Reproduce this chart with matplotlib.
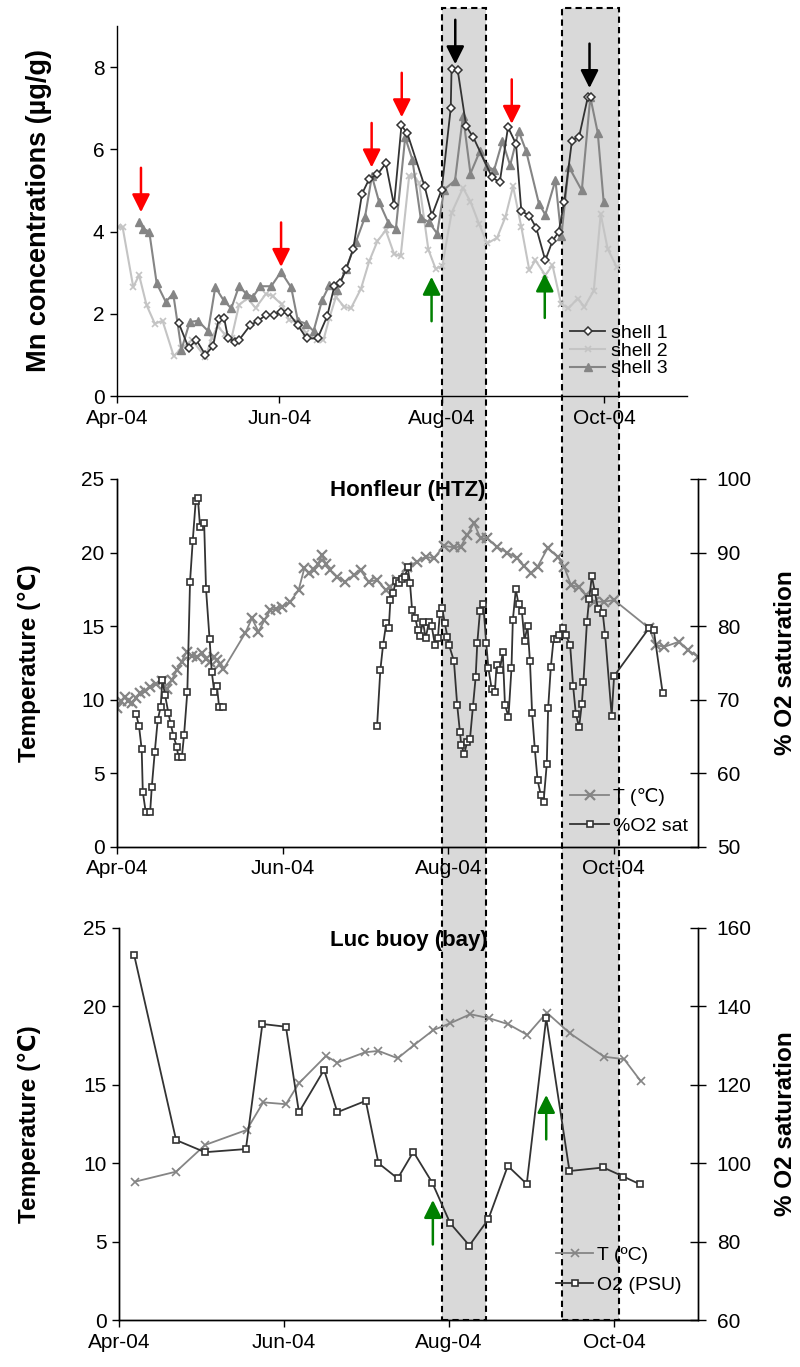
import numpy as np
import pandas as pd
import matplotlib
matplotlib.use('Agg')
import matplotlib.pyplot as plt
import matplotlib.dates as mdates
from matplotlib.patches import Rectangle

plt.rcParams['font.family'] = ['Liberation Sans', 'DejaVu Sans']

# Dias contados desde el 1 de abril de 2004
inicio = pd.Timestamp('2004-04-01')
dias_max = 214

# --- Panel 1: Mn en las conchas ---
shell1_dias = [23.2, 26.9, 29.8, 33.2, 36.0, 38.2, 40.2, 41.7, 44.4, 45.8, 50.0, 52.9, 56.0, 58.8,
               61.6, 64.1, 67.9, 71.2, 75.3, 78.9, 81.6, 83.7, 86.0, 88.7, 92.0, 94.7, 97.8, 100.9,
               104.0, 106.8, 109.0, 115.5, 118.2, 121.9, 125.3, 125.6, 127.9, 131.1, 133.8, 140.8,
               143.7, 146.8, 149.8, 151.8, 154.8, 157.4, 160.8, 163.5, 165.8, 167.9, 170.8, 173.5,
               176.8, 177.8]
shell1_mn = [1.77, 1.17, 1.36, 1.00, 1.21, 1.87, 1.90, 1.41, 1.32, 1.36, 1.72, 1.83, 1.97, 1.97,
             2.05, 2.05, 1.72, 1.40, 1.40, 1.94, 2.67, 2.75, 3.08, 3.58, 4.92, 5.28, 5.39, 5.66,
             4.64, 6.58, 6.39, 5.10, 4.39, 5.02, 7.00, 7.95, 7.93, 6.56, 6.29, 5.32,
             5.20, 6.54, 6.13, 4.50, 4.39, 4.09, 3.30, 3.77, 3.99, 4.72, 6.21, 6.31,
             7.28, 7.28]

shell2_dias = [0.5, 2.1, 6.1, 8.3, 11.1, 14.2, 17.1, 21.3, 24.2, 28.1, 33.2, 35.6, 37.8, 40.4,
               43.0, 45.8, 49.0, 52.0, 56.0, 58.4, 61.8, 64.7, 67.7, 71.1, 75.2, 77.5, 79.7, 82.2,
               85.3, 87.8, 91.6, 94.7, 97.8, 100.9, 104.0, 106.5, 109.7, 111.5, 113.4, 116.9,
               119.6, 122.1, 125.6, 129.9, 132.7, 135.9, 139.0, 142.7, 145.8, 148.7, 151.8, 154.8,
               157.1, 160.8, 163.5, 166.7, 169.5, 172.9, 175.5, 179.0, 181.6, 184.2, 187.6]
shell2_mn = [4.11, 4.11, 2.65, 2.94, 2.21, 1.76, 1.83, 0.97, 1.16, 1.36, 0.95, 1.41, 1.70, 1.50,
             1.41, 2.21, 2.38, 2.14, 2.49, 2.43, 2.23, 1.84, 1.80, 1.53, 1.36, 1.36, 1.89, 2.41,
             2.17, 2.13, 2.61, 3.28, 3.77, 4.03, 3.46, 3.40, 5.36, 5.34, 5.19, 3.56,
             3.10, 3.16, 4.45, 5.06, 4.73, 4.19, 3.71, 3.85, 4.35, 5.10, 4.11, 3.06,
             3.30, 2.94, 3.18, 2.25, 2.13, 2.37, 2.17, 2.56, 4.43, 3.58, 3.14]

shell3_dias = [8.3, 9.8, 12.1, 14.9, 18.3, 21.1, 24.2, 27.3, 30.4, 34.2, 36.9, 40.0, 42.9, 45.8,
               48.5, 51.0, 53.8, 57.9, 61.6, 65.4, 67.9, 71.0, 73.8, 77.0, 79.7, 82.6, 86.0, 89.7,
               93.1, 95.7, 98.4, 101.9, 104.7, 108.2, 110.9, 114.0, 117.1, 120.2, 122.8, 126.9,
               129.9, 132.7, 136.2, 138.8, 141.6, 144.7, 147.6, 150.8, 153.6, 158.4, 160.8, 164.6,
               166.8, 169.6, 174.5, 177.7, 180.5, 182.7]
shell3_mn = [4.23, 4.07, 4.00, 2.74, 2.29, 2.49, 1.13, 1.80, 1.83, 1.58, 2.65, 2.33, 2.13, 2.67,
             2.49, 2.41, 2.67, 2.67, 3.02, 2.64, 1.83, 1.76, 1.58, 2.33, 2.69, 2.57, 3.09, 3.75,
             4.35, 5.35, 4.72, 4.21, 4.07, 6.29, 5.75, 4.34, 4.23, 3.95, 5.02, 5.24,
             6.82, 5.41, 5.95, 5.59, 5.50, 6.20, 5.61, 6.44, 5.96, 4.68, 4.41, 5.25,
             3.88, 5.58, 5.00, 7.27, 6.40, 4.73]

# flechas (punta de la flecha)
rojas_dias = [9.0, 61.6, 95.6, 106.9, 148.2]
rojas_mn = [4.47, 3.14, 5.56, 6.78, 6.62]
negras_dias = [127.0, 177.4]
negras_mn = [8.07, 7.49]
verdes_dias = [118.1, 160.6]
verdes_mn = [2.90, 2.98]

# --- Panel 2: Honfleur (HTZ) ---
htz_t_dias = [0.0, 1.5, 3.0, 4.2, 5.4, 7.0, 8.5, 10.3, 12.2, 14.3, 16.5, 18.3, 20.2, 22.0, 23.8,
              25.7, 27.5, 29.4, 31.2, 32.8, 34.3, 35.6, 36.8, 38.0, 39.2, 47.2, 49.7, 52.1, 54.3,
              56.5, 58.7, 60.8, 63.8, 66.9, 69.0, 70.7, 72.4, 74.0, 75.5, 77.0, 78.6, 81.1,
              84.1, 87.2, 89.7, 92.7, 95.8, 98.9, 100.7, 103.2, 106.9, 110.6, 113.7, 116.7,
              120.4, 124.1, 126.6, 129.0, 131.5, 133.9, 136.4, 140.1, 143.8, 147.5, 149.9,
              152.4, 154.9, 158.6, 162.3, 164.7, 167.2, 170.2, 172.7, 175.8, 179.4, 183.1,
              196.0, 198.5, 201.6, 207.1, 210.2, 214.0]
htz_t = [9.42, 9.9, 10.17, 9.9, 9.8, 10.1, 10.44, 10.6, 10.89, 11.1, 11.3, 10.71, 11.35, 12.0, 12.6,
         13.27, 13.0, 12.93, 13.2, 12.8, 12.59, 12.9, 12.7, 12.4, 12.07, 14.52, 15.54, 14.63, 15.4,
         16.1, 16.2, 16.3, 16.66, 17.46, 18.93, 18.6, 18.8, 19.2, 19.84, 19.2, 18.8, 18.36,
         18.02, 18.48, 18.8, 18.02, 18.14, 17.46, 17.68, 18.14, 19.04, 19.38, 19.72, 19.61,
         20.45, 20.36, 20.4, 21.2, 22.0, 20.97, 20.97, 20.36, 20.0, 19.6, 19.09,
         18.59, 19.04, 20.3, 19.72, 19.04, 17.8, 17.64, 17.12, 16.66, 16.66, 16.78,
         14.86, 13.72, 13.6, 13.95, 13.38, 12.93]

htz_o2_dias = [7.0, 8.1, 9.1, 9.5, 10.6, 12.2, 12.8, 13.9, 15.0, 16.1, 16.7, 17.7, 18.9, 19.8,
               20.8, 22.0, 22.6, 23.9, 24.7, 25.9, 26.9, 27.9, 29.0, 29.8, 30.6, 32.1, 32.8, 34.1,
               34.9, 35.8, 36.8, 37.6, 39.0, np.nan,
               95.8, 97.0, 98.0, 99.2, 100.1, 100.7, 101.7, 102.7, 103.8, 105.1, 106.0, 107.1,
               107.9, 108.7, 109.9, 110.8, 111.6, 112.7, 113.7, 114.9, 115.9, 117.1, 118.2, 118.9,
               119.8, 120.7, 121.7, 122.3, 124.1, 125.3, 126.3, 126.8, 127.9, 129.0, 130.0, 131.1,
               132.1, 132.7, 133.7, 134.9, 136.0, 136.8, 138.0, 139.2, 139.8, 141.0, 142.1, 142.9,
               144.2, 145.3, 145.8, 146.9, 147.9, 149.1, 150.1, 151.2, 152.1, 152.9, 153.9, 154.9,
               156.1, 157.1, 158.3, 158.8, 159.8, 160.8, 162.0, 162.9, 164.1, 165.3, 166.9, 168.0,
               169.0, 170.2, 171.2, 171.8, 173.1, 173.9, 174.9, 176.0, 177.2, 178.9, 179.8, 182.2,
               183.1, 196.1, 197.7, 201.0]
htz_o2 = [68.07, 66.44, 63.27, 57.5, 54.7, 54.7, 58.1, 62.87, 67.26, 69.06, 72.69, 70.65, 68.25, 66.67,
          65.08, 63.63, 62.27, 62.27, 65.22, 71.06, 86.05, 91.62, 97.05, 97.38, 93.44, 93.98, 85.01, 78.22,
          73.82, 71.1, 71.87, 69.06, 69.06, np.nan,
          66.48, 74.05, 77.45, 80.48, 79.71, 83.56, 84.47, 86.18, 85.91, 86.37, 86.73, 88.0,
          85.91, 82.2, 81.07, 79.48, 78.67, 80.61, 78.36, 80.61, 80.03, 77.45, 78.44, 81.66,
          82.43, 80.48, 78.57, 77.45, 75.27, 69.29, 65.67, 63.86, 62.64, 64.31, 64.63, 69.06,
          73.06, 77.68, 82.07, 83.02, 77.68, 74.28, 71.47, 71.1, 74.73, 74.05, 76.45, 69.29,
          67.7, 74.28, 80.84, 85.01, 82.98, 82.1, 78.03, 80.03, 75.27, 68.17, 63.27, 59.1,
          57.07, 56.07, 61.28, 68.85, 74.5, 78.22, 78.22, 78.8, 79.8, 78.8, 77.45, 71.88,
          68.07, 66.26, 69.43, 72.46, 80.61, 83.65, 86.82, 84.69, 82.3, 81.83, 78.8, 67.84,
          73.23, 79.8, 79.48, 70.88]

# --- Panel 3: Luc buoy (bay) ---
luc_t_dias = [5.9, 21.1, 31.8, 47.2, 53.3, 61.7, 66.5, 76.5, 80.7, 90.9, 95.9, 103.0, 109.1,
              116.2, 122.4, 129.8, 136.9, 143.9, 150.9, 158.1, 166.7, 179.3, 186.7, 192.8]
luc_t = [8.82, 9.46, 11.16, 12.12, 13.88, 13.76, 15.1, 16.84, 16.41, 17.07, 17.16, 16.69, 17.54,
         18.49, 18.92, 19.5, 19.24, 18.86, 18.18, 19.6, 18.28, 16.79, 16.63, 15.24]

luc_o2_dias = [5.6, 21.1, 31.8, 46.9, 53.0, 61.7, 66.5, 75.8, 80.7, 91.2, 95.9, 103.0, 108.8,
               115.8, 122.4, 129.5, 136.5, 143.7, 150.7, 157.9, 166.5, 179.0, 186.4, 192.6]
luc_o2 = [153.1, 105.9, 102.8, 103.6, 135.5, 134.8, 113.0, 123.8, 113.0, 115.9, 100.0, 96.1, 102.9,
          95.0, 84.7, 79.0, 85.7, 99.3, 94.7, 137.0, 98.0, 98.9, 96.6, 94.6]

luc_verdes_dias = [116.0, 157.9]
luc_verdes_t = [7.65, 14.35]

# periodos sombreados (dias)
periodos = [(122.0, 138.5), (166.9, 188.6)]


def fechas(dias):
    return mdates.date2num((inicio + pd.to_timedelta(np.array(dias, dtype=float), unit='D')).to_numpy())


oscuro = '#333333'
medio = '#858585'
claro = '#c4c4c4'
tam_tick = 15

fig = plt.figure(figsize=(8, 13.67), dpi=100)
ax1 = fig.add_axes([0.14625, 0.7103, 0.7125, 0.2707])
ax2 = fig.add_axes([0.14625, 0.3804, 0.72625, 0.2692])
ax3 = fig.add_axes([0.14875, 0.03438, 0.72375, 0.2868])
ax2b = ax2.twinx()
ax3b = ax3.twinx()

for ax in [ax1, ax2, ax3, ax2b, ax3b]:
    ax.set_facecolor('none')
    ax.spines['top'].set_visible(False)
    ax.set_xlim(fechas([0, dias_max]))
    ax.xaxis.set_major_locator(mdates.MonthLocator(bymonth=[4, 6, 8, 10]))
    ax.xaxis.set_major_formatter(mdates.DateFormatter('%b-%y'))
    for s in ax.spines.values():
        s.set_linewidth(1.0)
    ax.tick_params(labelsize=tam_tick, width=1.0)
ax1.spines['right'].set_visible(False)
for ax in [ax1, ax2, ax3]:
    ax.tick_params(axis='both', direction='out', length=5, pad=4)
for ax in [ax2b, ax3b]:
    ax.tick_params(axis='y', direction='inout', length=11, pad=8)

# Panel 1
ax1.plot(fechas(shell1_dias), shell1_mn, color=oscuro, lw=1.3, marker='D', ms=4,
         mfc='white', mec=oscuro, mew=1.1, label='shell 1', zorder=4)
ax1.plot(fechas(shell2_dias), shell2_mn, color=claro, lw=1.5, marker='x', ms=5,
         mew=1.2, label='shell 2', zorder=2)
ax1.plot(fechas(shell3_dias), shell3_mn, color=medio, lw=1.5, marker='^', ms=6,
         label='shell 3', zorder=3)
ax1.set_ylim(0, 9)
ax1.set_yticks([0, 2, 4, 6, 8])
ax1.set_ylabel('Mn concentrations (µg/g)', fontsize=19.5, fontweight='bold')
ax1.yaxis.set_label_coords(-0.114, 0.5)
ax1.legend(loc='upper left', bbox_to_anchor=(0.795, 0.193), frameon=False, fontsize=14,
           handlelength=1.8, handletextpad=0.3, labelspacing=0.0, borderpad=0, borderaxespad=0)


def flecha(ax, dias, vals, color, hacia_abajo=True):
    for d, v in zip(fechas(dias), vals):
        dy = 32 if hacia_abajo else -32
        ax.annotate('', xy=(d, v), xytext=(0, dy), textcoords='offset points',
                    arrowprops=dict(arrowstyle='-|>,head_length=0.9,head_width=0.45',
                                    mutation_scale=12, color=color, lw=1.8,
                                    shrinkA=0, shrinkB=0), zorder=6)


flecha(ax1, rojas_dias, rojas_mn, 'red')
flecha(ax1, negras_dias, negras_mn, 'black')
flecha(ax1, verdes_dias, verdes_mn, 'green', hacia_abajo=False)

# Panel 2
l1, = ax2.plot(fechas(htz_t_dias), htz_t, color=medio, lw=1.3, marker='x', ms=6.5, mew=1.6,
               label='T (℃)')
l2, = ax2b.plot(fechas(htz_o2_dias), htz_o2, color=oscuro, lw=1.3, marker='s', ms=4,
                mfc='white', mec=oscuro, mew=1.2, label='%O2 sat')
ax2.set_ylim(0, 25)
ax2.set_yticks([0, 5, 10, 15, 20, 25])
ax2b.set_ylim(50, 100)
ax2b.set_yticks([50, 60, 70, 80, 90, 100])
ax2.set_ylabel('Temperature (℃)', fontsize=17.5, fontweight='bold')
ax2.yaxis.set_label_coords(-0.131, 0.5)
ax2b.set_ylabel('% O2 saturation', fontsize=17.5, fontweight='bold')
ax2b.yaxis.set_label_coords(1.131, 0.5)
ax2.text(0.5, 0.97, 'Honfleur (HTZ)', transform=ax2.transAxes, ha='center', va='center',
         fontsize=16, fontweight='bold')
ax2b.legend([l1, l2], ['T (℃)', '%O2 sat'], loc='upper left', bbox_to_anchor=(0.78, 0.161),
            frameon=False, fontsize=14, handlelength=2.0, handletextpad=0.2, labelspacing=0.6,
            borderpad=0, borderaxespad=0)

# Panel 3
l3, = ax3.plot(fechas(luc_t_dias), luc_t, color=medio, lw=1.3, marker='x', ms=6, mew=1.2)
l4, = ax3b.plot(fechas(luc_o2_dias), luc_o2, color=oscuro, lw=1.3, marker='s', ms=4,
                mfc='white', mec=oscuro, mew=1.2)
ax3.set_ylim(0, 25)
ax3.set_yticks([0, 5, 10, 15, 20, 25])
ax3b.set_ylim(60, 160)
ax3b.set_yticks([60, 80, 100, 120, 140, 160])
ax3.set_ylabel('Temperature (℃)', fontsize=17.5, fontweight='bold')
ax3.yaxis.set_label_coords(-0.135, 0.5)
ax3b.set_ylabel('% O2 saturation', fontsize=17.5, fontweight='bold')
ax3b.yaxis.set_label_coords(1.131, 0.5)
ax3.text(0.5, 0.969, 'Luc buoy (bay)', transform=ax3.transAxes, ha='center', va='center',
         fontsize=16, fontweight='bold')
ax3b.legend([l3, l4], ['T (ºC)', 'O2 (PSU)'], loc='upper left', bbox_to_anchor=(0.755, 0.187),
            frameon=False, fontsize=14, handlelength=1.9, handletextpad=0.2, labelspacing=0.6,
            borderpad=0, borderaxespad=0)
flecha(ax3, luc_verdes_dias, luc_verdes_t, 'green', hacia_abajo=False)

# Rectangulos sombreados que cruzan los tres paneles
abajo = ax3.get_position().y0
arriba = 1 - 8 / 1367
a_fig = fig.transFigure.inverted()
for d0, d1 in periodos:
    x0 = a_fig.transform(ax1.transData.transform((fechas([d0])[0], 0)))[0]
    x1 = a_fig.transform(ax1.transData.transform((fechas([d1])[0], 0)))[0]
    rect = Rectangle((x0, abajo), x1 - x0, arriba - abajo, transform=fig.transFigure,
                     facecolor='#d9d9d9', edgecolor='black', lw=1.5, linestyle=(0, (3, 2)),
                     zorder=-1)
    fig.add_artist(rect)

fig.savefig('out.png', dpi=100)
